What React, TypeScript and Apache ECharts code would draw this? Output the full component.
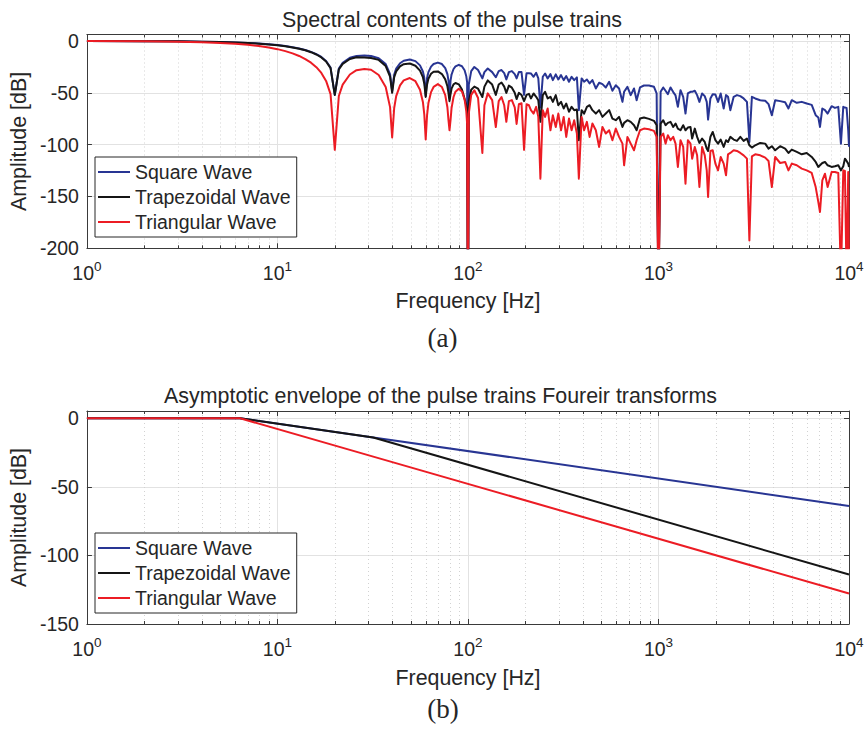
import React, { useEffect, useRef } from "react";
import * as echarts from "echarts";

// ---------- data ----------
const freqs = [
  1, 2, 3, 4, 5, 6, 7, 8, 9, 10, 11, 12, 13, 14, 15, 16, 17, 18, 19, 20,
  21, 22, 24, 26, 28.6, 31, 34, 37, 39, 40,
  41, 42, 44, 46, 49.5, 53, 56, 58, 59, 60,
  61, 62, 64, 66, 69.5, 73, 76, 78, 79, 80,
  81, 82, 84, 86, 89.5, 93, 96, 98, 99, 100,
  101, 104, 108, 113, 119, 122, 127, 134, 140, 145, 150, 155, 159, 164, 170, 176, 180, 185, 191, 197, 203, 209,
  214, 221, 228, 234, 240, 247, 254, 262, 271, 279, 289, 298, 308, 318, 328, 339, 350, 361, 373, 382,
  395, 407, 421, 435, 450, 469, 488, 508, 529, 551, 573, 597, 621, 647, 660, 687, 715, 744, 768, 800,
  839, 891, 947, 978, 1000, 1026, 1059, 1089, 1120, 1157, 1195, 1229, 1264, 1305, 1348, 1386, 1426, 1472,
  1502, 1551, 1595, 1640, 1694, 1749, 1792, 1821, 1873, 1926, 1989, 2054, 2121, 2199, 2262, 2317, 2383,
  2481, 2582, 2689, 2799, 2913, 3000, 3093, 3219, 3420, 3632, 3781, 3936, 4097, 4351, 4621, 4810, 5007,
  5319, 5649, 5998, 6372, 6685, 6903, 7042, 7244, 7480, 7724, 8105, 8437, 8785, 9071, 9331, 9519, 9712,
  9906, 10000,
];

const squareDb = [
  -0.04, -0.14, -0.32, -0.58, -0.91, -1.33, -1.83, -2.42, -3.12, -3.92, -4.86, -5.94, -7.2, -8.69, -10.45, -12.62, -15.39, -19.23, -25.6, -52,
  -26.5, -21, -16.1, -14.4, -14, -14.5, -16.6, -22.2, -32, -48,
  -32.3, -26.6, -21.4, -19, -17.8, -19.4, -23.5, -29.4, -35.5, -53,
  -35.7, -30, -24.7, -22.2, -20.8, -22.2, -26.2, -32, -38, -55,
  -38.2, -32.4, -27, -24.5, -23, -24.3, -28.2, -34, -40, -300,
  -42, -29, -25, -28, -36, -30, -26.5, -30, -35, -29, -28, -31, -37, -30, -29, -32, -36, -30, -30, -52, -31, -31,
  -31.3, -34.5, -30.6, -36.1, -64.2, -34.5, -31.3, -36.1, -31.9, -37.7, -32.2, -37.1, -32.9, -37.7, -33.8, -39.3, -34.5, -37.7, -35.1, -66.7,
  -36.1, -39.3, -37.1, -40.9, -37.7, -45.8, -40.3, -41.6, -44.8, -39.3, -48, -42.6, -45.8, -58.7, -49, -44.2, -52.2, -45.8, -57.1, -44.8,
  -42.9, -42.9, -44.2, -50.6, -250, -49, -44.8, -48, -51.3, -44.8, -49.3, -52.5, -63.5, -47.4, -53.8, -70, -50.6, -49,
  -49, -48, -52.2, -58.7, -50.6, -53.2, -58.7, -75.8, -55.4, -51.3, -51.6, -58.7, -50.6, -65.1, -52.2, -53.8, -66.7,
  -53.8, -52.2, -53.2, -55.4, -58.7, -97.4, -53.8, -55.4, -57.1, -57.7, -60.9, -71.6, -57.1, -58, -59, -65.1, -57.1,
  -59.6, -58.7, -60.3, -61.6, -71.6, -73.8, -82.9, -65.1, -66.7, -70, -62.9, -64.5, -63.5, -99, -63.5, -64.2, -64.5,
  -86, -102,
];

const trapezoidDb = [
  -0.04, -0.15, -0.33, -0.6, -0.95, -1.38, -1.9, -2.51, -3.24, -4.06, -5.03, -6.15, -7.44, -8.97, -10.77, -12.99, -15.8, -19.69, -26.1, -52,
  -27.5, -22, -17.3, -15.6, -15.8, -16.3, -18.2, -24.2, -34.3, -50,
  -34.9, -29.3, -24.4, -22.3, -21.7, -23.9, -28.6, -34.9, -41.2, -54,
  -41.9, -36.4, -31.6, -29.6, -29.3, -31.9, -37, -43.7, -50.1, -58,
  -51.3, -46, -41.8, -40.5, -41.8, -46.8, -55.8, -62, -66, -300,
  -58, -47, -44, -46, -54, -44, -38, -42, -52, -42, -40, -44, -50, -43, -45, -50, -56, -50, -52, -58, -52, -51,
  -55.4, -50.6, -53.8, -57.1, -78, -52.2, -49, -55.4, -53.8, -58.7, -52.2, -61.9, -58.7, -65.1, -60.3, -68.3, -63.5, -66.7, -66.1, -95.7,
  -66.7, -70, -63.5, -61.9, -66.7, -70, -66.7, -73.2, -70, -66.7, -74.8, -76.4, -73.2, -82.9, -79, -76.4, -78, -81.2, -86.1, -74.8,
  -73.8, -75.1, -77, -81.2, -250, -79.6, -76.4, -81.2, -79, -78, -82.9, -79.6, -84.5, -86.1, -81.2, -86.1, -83.5, -82.9,
  -94.1, -84.5, -92.5, -98.3, -94.1, -97.4, -103.8, -106.1, -92.5, -87.7, -95.7, -99, -95.1, -102.2, -95.7, -97.4, -92.5,
  -95.1, -96.4, -92.5, -96.4, -94.1, -100.6, -102.8, -100.6, -98.3, -99, -103.8, -101.5, -105.4, -101.5, -103.8, -108, -104.8,
  -107, -109.3, -108, -111.9, -116.7, -121.5, -119.9, -117.7, -116.7, -119.9, -121.5, -120.9, -119.9, -124.8, -120.9, -113.5, -115.7,
  -118.3, -121.5,
];

const triangularDb = [
  -0.07, -0.28, -0.64, -1.16, -1.82, -2.66, -3.66, -4.84, -6.24, -7.84, -9.72, -11.88, -14.4, -17.38, -20.9, -25.24, -30.78, -38.46, -51.2, -105,
  -53, -42, -32.3, -28.1, -27, -27.7, -32.8, -44.3, -63.8, -93,
  -64.6, -53.2, -42.8, -38, -35.7, -38.8, -47, -58.8, -71, -95,
  -71.4, -59.9, -49.3, -44.3, -41.6, -44.4, -52.3, -63.9, -76, -86,
  -76.4, -64.8, -54, -48.9, -46, -48.6, -56.4, -67.9, -79.9, -300,
  -70, -52, -47.5, -55, -108, -62, -50.5, -57, -83, -58, -54, -62, -78, -58, -57, -64, -80, -61, -60, -105, -61, -62,
  -66.7, -70, -63.5, -73.2, -132.8, -66.7, -73.2, -65.1, -86.1, -71.6, -82.9, -70, -86.1, -73.2, -92.5, -74.8, -86.1, -76.4, -89.3, -132.8,
  -73.2, -86.1, -78, -92.5, -79.6, -86.1, -102.2, -82.9, -89.3, -86.1, -95.7, -84.5, -92.5, -99, -119.9, -92.5, -99, -105.4, -95.7, -86.1,
  -84.5, -85.1, -86.7, -92.5, -250, -92.5, -89.3, -99, -90.9, -95.7, -92.5, -99, -121.5, -95.7, -102.2, -137.7, -95.7, -99,
  -113.5, -102.2, -110.3, -140.9, -102.2, -110.3, -124.8, -150.5, -106.1, -105.4, -118.3, -124.8, -111.9, -118.3, -129.6, -109.3, -108,
  -105.4, -106.1, -108, -110.3, -113.5, -192.5, -111.2, -109.3, -110.3, -112.5, -115.7, -140.9, -111.9, -117.7, -116.7, -124.8, -118.3,
  -119.9, -123.1, -124.8, -127.3, -140.9, -155.4, -165, -134.4, -128, -140.9, -126.4, -126.4, -127.3, -230, -124.8, -125.4, -230,
  -126.4, -230,
];

const envFreqs = [1, 6.366, 31.83, 10000];
const envSquareDb = [0, 0, -13.98, -63.9];
const envTrapezoidDb = [0, 0, -13.98, -113.9];
const envTriangularDb = [0, 0, -27.96, -127.8];

const seriesNames = ["Square Wave", "Trapezoidal Wave", "Triangular Wave"];
const minorFreqs = [
  2, 3, 4, 5, 6, 7, 8, 9, 20, 30, 40, 50, 60, 70, 80, 90,
  200, 300, 400, 500, 600, 700, 800, 900, 2000, 3000, 4000, 5000, 6000, 7000, 8000, 9000,
];

// ---------- styling ----------
const FONT = "'Liberation Sans', Arial, Helvetica, sans-serif";
const TXT = "#262626";
const AX = "#3a3a3a";
const GRIDC = "#e2e2e2";
const COLORS = ["#283593", "#151515", "#ec1c24"];

function mkX(gridIndex: number, position: string, main: boolean, nameGap: number) {
  return {
    type: "log",
    logBase: 10,
    gridIndex,
    position,
    min: 1,
    max: 10000,
    axisLine: { show: true, onZero: false, lineStyle: { color: AX, width: 1 } },
    axisTick: { show: true, inside: true, length: 5, lineStyle: { color: AX } },
    minorTick: { show: false },
    splitLine: { show: main, lineStyle: { color: GRIDC, width: 1 } },
    axisLabel: main
      ? {
          show: true,
          margin: 11,
          formatter: (v: number) => `{b|10}{s|${Math.round(Math.log10(v))}}`,
          rich: {
            b: { fontSize: 19.5, fontFamily: FONT, color: TXT, lineHeight: 28 },
            s: { fontSize: 13.5, fontFamily: FONT, color: TXT, lineHeight: 14, verticalAlign: "top" },
          },
        }
      : { show: false },
    name: main ? "Frequency [Hz]" : "",
    nameLocation: "middle",
    nameGap,
    nameTextStyle: { fontSize: 21.4, fontFamily: FONT, color: TXT },
  };
}

function mkY(gridIndex: number, position: string, main: boolean, min: number, max: number) {
  return {
    type: "value",
    gridIndex,
    position,
    min,
    max,
    interval: 50,
    axisLine: { show: true, onZero: false, lineStyle: { color: AX, width: 1 } },
    axisTick: { show: true, inside: true, length: 5, lineStyle: { color: AX } },
    splitLine: { show: main, lineStyle: { color: GRIDC, width: 1 } },
    axisLabel: main
      ? {
          show: true,
          margin: 8,
          fontSize: 19.5,
          fontFamily: FONT,
          color: TXT,
          formatter: (v: number) => (Math.abs(v % 50) < 1e-9 ? String(v) : ""),
        }
      : { show: false },
    name: main ? "Amplitude [dB]" : "",
    nameLocation: "middle",
    nameGap: 48,
    nameTextStyle: { fontSize: 21.4, fontFamily: FONT, color: TXT },
  };
}

function minorSeries(axisIndex: number) {
  return {
    type: "custom",
    xAxisIndex: axisIndex,
    yAxisIndex: axisIndex,
    silent: true,
    z: 1,
    clip: false,
    data: minorFreqs.map((f) => [f, -100]),
    renderItem: (params: any, api: any) => {
      const cs = params.coordSys;
      const x = Math.round(api.coord([api.value(0), api.value(1)])[0]) + 0.5;
      const top = cs.y;
      const bot = cs.y + cs.height;
      return {
        type: "group",
        children: [
          { type: "line", shape: { x1: x, y1: top, x2: x, y2: bot }, style: { stroke: "#d2d2d2", lineWidth: 1, lineDash: [1, 3] } },
          { type: "line", shape: { x1: x, y1: bot, x2: x, y2: bot - 3 }, style: { stroke: AX, lineWidth: 1 } },
          { type: "line", shape: { x1: x, y1: top, x2: x, y2: top + 3 }, style: { stroke: AX, lineWidth: 1 } },
        ],
      };
    },
  };
}

function lineSeries(name: string, idx: number, axisIndex: number, xs: number[], ys: number[]) {
  return {
    type: "line",
    name,
    xAxisIndex: axisIndex,
    yAxisIndex: axisIndex,
    data: xs.map((f, i) => [f, ys[i]]),
    symbol: "none",
    showSymbol: false,
    z: 3,
    clip: true,
    lineStyle: { width: 2, color: COLORS[idx], join: "round" },
    itemStyle: { color: COLORS[idx] },
    emphasis: { disabled: true },
  };
}

function mkLegend(top: number) {
  return {
    left: 95,
    top,
    orient: "vertical",
    data: seriesNames.map((n) => ({ name: n, icon: "rect" })),
    padding: [5, 6, 5, 3],
    itemGap: 5,
    itemWidth: 32,
    itemHeight: 2,
    backgroundColor: "#ffffff",
    borderColor: TXT,
    borderWidth: 1,
    borderRadius: 0,
    selectedMode: false,
    textStyle: { fontSize: 19.5, fontFamily: FONT, color: TXT, lineHeight: 20 },
  };
}

function textEl(text: string, x: number, y: number, size: number, family: string) {
  return {
    type: "text",
    x,
    y,
    silent: true,
    style: {
      text,
      fontSize: size,
      fontFamily: family,
      fill: TXT,
      textAlign: "center",
      textVerticalAlign: "middle",
      align: "center",
      verticalAlign: "middle",
    },
  };
}

export default function App() {
  const ref = useRef<HTMLDivElement>(null);
  useEffect(() => {
    if (!ref.current) return;
    const chart = echarts.init(ref.current, undefined, { renderer: "svg" });
    const option: any = {
      animation: false,
      backgroundColor: "#ffffff",
      grid: [
        { left: 84, top: 34.5, width: 765, height: 213.8 },
        { left: 84, top: 411, width: 765, height: 213 },
      ],
      xAxis: [mkX(0, "bottom", true, 42), mkX(0, "top", false, 0), mkX(1, "bottom", true, 43), mkX(1, "top", false, 0)],
      yAxis: [mkY(0, "left", true, -200, 6.3), mkY(0, "right", false, -200, 6.3), mkY(1, "left", true, -150, 5.3), mkY(1, "right", false, -150, 5.3)],
      legend: [mkLegend(157), mkLegend(533)],
      series: [
        minorSeries(0),
        minorSeries(2),
        lineSeries(seriesNames[0], 0, 0, freqs, squareDb),
        lineSeries(seriesNames[1], 1, 0, freqs, trapezoidDb),
        lineSeries(seriesNames[2], 2, 0, freqs, triangularDb),
        lineSeries(seriesNames[0], 0, 2, envFreqs, envSquareDb),
        lineSeries(seriesNames[1], 1, 2, envFreqs, envTrapezoidDb),
        lineSeries(seriesNames[2], 2, 2, envFreqs, envTriangularDb),
      ],
      graphic: [
        textEl("Spectral contents of the pulse trains", 452, 19.5, 21.4, FONT),
        textEl("Asymptotic envelope of the pulse trains Foureir transforms", 440.5, 396, 21.4, FONT),
        textEl("(a)", 442.5, 338, 27, "'Liberation Serif', 'Times New Roman', serif"),
        textEl("(b)", 443, 709, 27, "'Liberation Serif', 'Times New Roman', serif"),
      ],
    };
    chart.setOption(option);
    return () => chart.dispose();
  }, []);
  return (
    <div
      ref={ref}
      style={{ position: "absolute", left: 0, top: 0, width: 867, height: 733, background: "#fff" }}
    />
  );
}
